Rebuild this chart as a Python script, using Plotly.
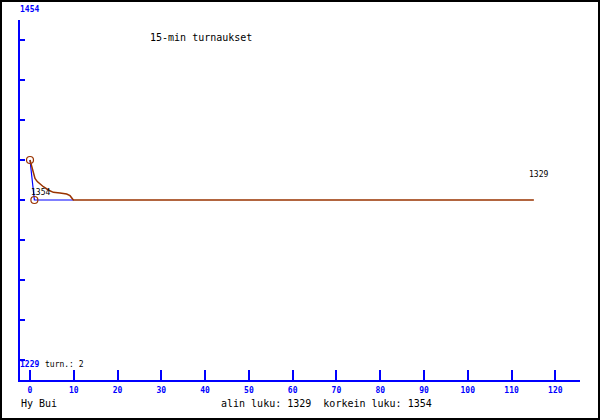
import plotly.graph_objects as go

# ---- data ----
x_ticks = [0, 10, 20, 30, 40, 50, 60, 70, 80, 90, 100, 110, 120]
actual_x = [0, 1, 10]
actual_y = [1354, 1329, 1329]
trend_x = [0, 0.53, 0.76, 1.14, 1.67, 2.28, 3.05, 4.19, 5.33, 6.85, 8.38, 9.14, 9.52, 9.9, 115.1]
trend_y = [1354, 1348.8, 1345.7, 1342.5, 1340.5, 1338.8, 1337.3, 1335.25, 1333.8, 1333.4,
           1332.75, 1331.7, 1330.5, 1329, 1329]
event_x = [0, 1]
event_y = [1354, 1329]
y_top_label = "1454"
y_bottom_label = "1229"
title_text = "15-min turnaukset"
player = "Hy Bui"
stats_text = "alin luku: 1329\u00a0\u00a0korkein luku: 1354"
count_text = "turn.: 2"
first_label = "1354"
last_label = "1329"

BLUE = "#0000ff"
BROWN = "#993300"
MONO = "DejaVu Sans Mono"

fig = go.Figure()
fig.add_trace(go.Scatter(x=actual_x, y=actual_y, mode="lines",
                         line=dict(color=BLUE, width=1.2), hoverinfo="skip"))
fig.add_trace(go.Scatter(x=trend_x, y=trend_y, mode="lines",
                         line=dict(color=BROWN, width=1.5),
                         hoverinfo="skip"))
fig.add_trace(go.Scatter(x=event_x, y=event_y, mode="markers",
                         marker=dict(symbol="circle-open", size=7, color=BROWN,
                                     line=dict(width=1.2, color=BROWN)),
                         hoverinfo="skip"))

# pixel helpers for paper coordinates (plot area 20..580 x, 20..380 y)
def px(xp):
    return (xp - 20) / 560.0

def py(yp):
    return (380 - yp) / 360.0

ann = []
ann.append(dict(text=title_text, x=px(149), y=py(37), xref="paper", yref="paper",
                xanchor="left", yanchor="middle", showarrow=False,
                font=dict(family=MONO, size=10, color="black")))
ann.append(dict(text=player, x=px(20), y=py(403), xref="paper", yref="paper",
                xanchor="left", yanchor="middle", showarrow=False,
                font=dict(family=MONO, size=10, color="black")))
ann.append(dict(text=stats_text, x=px(220), y=py(403), xref="paper", yref="paper",
                xanchor="left", yanchor="middle", showarrow=False,
                font=dict(family=MONO, size=10, color="black")))
ann.append(dict(text="<b>" + y_top_label + "</b>", x=px(19), y=py(9), xref="paper", yref="paper",
                xanchor="left", yanchor="middle", showarrow=False,
                font=dict(family=MONO, size=8, color=BLUE)))
ann.append(dict(text="<b>" + y_bottom_label + "</b>", x=px(19), y=py(364), xref="paper", yref="paper",
                xanchor="left", yanchor="middle", showarrow=False,
                font=dict(family=MONO, size=8, color=BLUE)))
ann.append(dict(text=count_text, x=px(44), y=py(364), xref="paper", yref="paper",
                xanchor="left", yanchor="middle", showarrow=False,
                font=dict(family=MONO, size=8, color="black")))
ann.append(dict(text=first_label, x=actual_x[0], y=1333.4, xref="x", yref="y",
                xanchor="left", yanchor="middle", showarrow=False,
                font=dict(family=MONO, size=8, color="black")))
ann.append(dict(text=last_label, x=113.8, y=1345.25, xref="x", yref="y",
                xanchor="left", yanchor="middle", showarrow=False,
                font=dict(family=MONO, size=8, color="black")))
for a in ann:
    a["borderpad"] = 0

fig.update_layout(
    width=600, height=420,
    margin=dict(l=20, r=20, t=20, b=40, pad=0),
    paper_bgcolor="white", plot_bgcolor="white",
    showlegend=False,
    annotations=ann,
    shapes=[dict(type="rect", xref="paper", yref="paper",
                 x0=px(1), x1=px(599), y0=py(419), y1=py(1),
                 line=dict(color="black", width=2), layer="above")],
    xaxis=dict(range=[-2.284, 125.64], tickvals=x_ticks, ticktext=[f"<b>{v}</b>" for v in x_ticks],
               ticks="inside", ticklen=10, tickwidth=1.5, tickcolor=BLUE,
               showline=True, linecolor=BLUE, linewidth=1.5, ticklabelstandoff=2,
               showgrid=False, zeroline=False,
               tickfont=dict(family=MONO, size=8, color=BLUE)),
    yaxis=dict(range=[1216.5, 1441.5], tick0=1354, dtick=25,
               ticks="inside", ticklen=5, tickwidth=1.5, tickcolor=BLUE,
               showline=True, linecolor=BLUE, linewidth=1.5,
               showgrid=False, zeroline=False, showticklabels=False),
)

fig.write_html("out.html", config={"displayModeBar": False},
               post_script="document.body.style.margin='0';document.body.style.overflow='hidden';")
